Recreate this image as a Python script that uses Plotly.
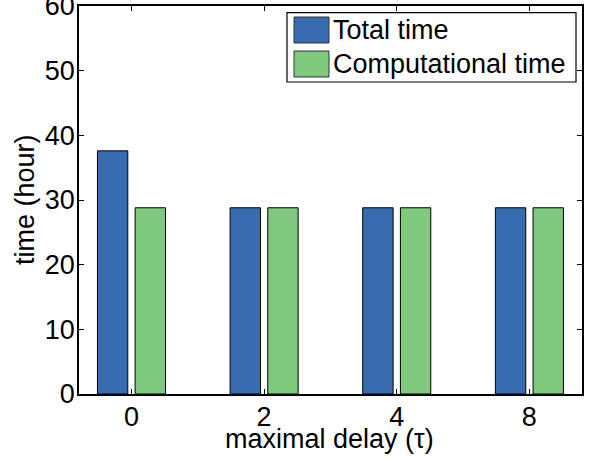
import plotly.graph_objects as go

# data
delays = ["0", "2", "4", "8"]
total_time = [37.6, 28.8, 28.8, 28.8]
computational_time = [28.8, 28.8, 28.8, 28.8]
series_names = ["Total time", "Computational time"]
y_ticks = [0, 10, 20, 30, 40, 50, 60]

W, H = 592, 459
L, R, T, B = 79, 10, 6, 65
PW, PH = W - L - R, H - T - B

def px(x):
    return (x - L) / PW

def py(y):
    return (H - B - y) / PH

pos = list(range(1, len(delays) + 1))
blue = "#386cb0"
green = "#7fc97f"
FONT = "Liberation Sans, Arial, sans-serif"
FS = 27

fig = go.Figure()
fig.add_trace(go.Bar(x=pos, y=total_time, name=series_names[0], width=0.229, offset=-0.256,
                     marker=dict(color=blue, line=dict(color="black", width=1)), showlegend=False))
fig.add_trace(go.Bar(x=pos, y=computational_time, name=series_names[1], width=0.229, offset=0.028,
                     marker=dict(color=green, line=dict(color="black", width=1)), showlegend=False))

fig.update_layout(
    width=W, height=H, margin=dict(l=L, r=R, t=T, b=B, autoexpand=False),
    paper_bgcolor="white", plot_bgcolor="white",
    barmode="overlay", showlegend=False,
    font=dict(family=FONT, size=FS, color="black"),
)
fig.update_xaxes(range=[0.605, 4.397], tickvals=pos, ticktext=delays, automargin=False,
                 ticks="inside", ticklen=5, tickcolor="black", showline=True, linecolor="black",
                 linewidth=1.5, mirror="ticks", showgrid=False, zeroline=False,
                 tickfont=dict(size=FS), ticklabelstandoff=-2, ticklabeloverflow="allow")
fig.update_yaxes(range=[0, 60], tickvals=y_ticks, automargin=False,
                 ticks="inside", ticklen=5, tickcolor="black", showline=True, linecolor="black",
                 linewidth=1.5, mirror="ticks", showgrid=False, zeroline=False,
                 tickfont=dict(size=FS), ticklabelstandoff=-3, ticklabeloverflow="allow")

# axis titles
fig.add_annotation(xref="paper", yref="paper", x=px(329.5), y=py(439), text="maximal delay (τ)",
                   showarrow=False, xanchor="center", yanchor="middle", font=dict(size=FS))
fig.add_annotation(xref="paper", yref="paper", x=px(25), y=py(200), text="time (hour)", textangle=-90,
                   showarrow=False, xanchor="center", yanchor="middle", font=dict(size=FS))

# custom legend
fig.add_shape(type="rect", xref="paper", yref="paper", x0=px(287), x1=px(576), y0=py(82), y1=py(12.7),
              line=dict(color="black", width=1.2), fillcolor="white", layer="above")
for i, (name, col) in enumerate(zip(series_names, [blue, green])):
    y0, y1 = 17 + i * 34, 43 + i * 34
    fig.add_shape(type="rect", xref="paper", yref="paper", x0=px(294), x1=px(329), y0=py(y1), y1=py(y0),
                  line=dict(color="#333", width=1), fillcolor=col, layer="above")
    fig.add_annotation(xref="paper", yref="paper", x=px(331), y=py((y0 + y1) / 2), text=name,
                       showarrow=False, xanchor="left", yanchor="middle", font=dict(size=FS))

fig.write_html("out.html", config={"displayModeBar": False},
               post_script="document.body.style.margin='0px';")
